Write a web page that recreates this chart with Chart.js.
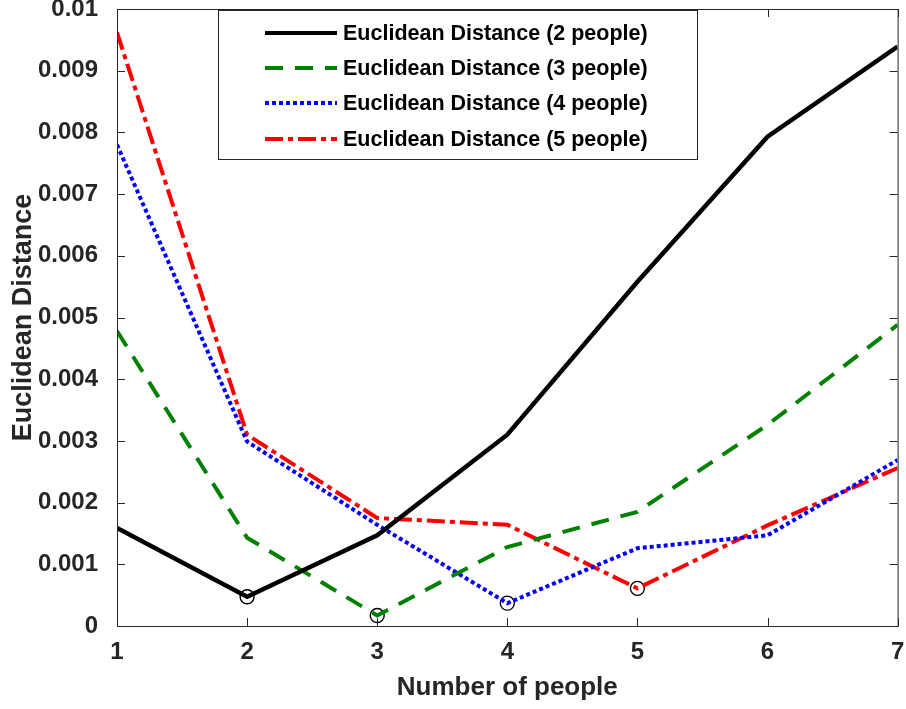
<!DOCTYPE html>
<html>
<head>
<meta charset="utf-8">
<script src="https://cdn.jsdelivr.net/npm/chart.js@4.4.1/dist/chart.umd.min.js"></script>
<style>
  html, body { margin: 0; padding: 0; background: #fff; }
  #wrap { width: 906px; height: 709px; }
</style>
</head>
<body>
<div id="wrap"><canvas id="chart" width="906" height="709"></canvas></div>
<script>
// data
const people = [1, 2, 3, 4, 5, 6, 7];
const dist2 = [0.00159, 0.000475, 0.00147, 0.00310, 0.00558, 0.00793, 0.00939];
const dist3 = [0.00478, 0.00143, 0.00017, 0.00128, 0.00185, 0.00326, 0.00488];
const dist4 = [0.00780, 0.00299, 0.00164, 0.00037, 0.00126, 0.00147, 0.00269];
const dist5 = [0.00962, 0.00310, 0.00175, 0.00164, 0.00061, 0.00163, 0.00256];
const seriesNames = [
  "Euclidean Distance (2 people)",
  "Euclidean Distance (3 people)",
  "Euclidean Distance (4 people)",
  "Euclidean Distance (5 people)",
];
const yTicks = [0, 0.001, 0.002, 0.003, 0.004, 0.005, 0.006, 0.007, 0.008, 0.009, 0.01];

const AXIS = "#262626";
const FONT = "'Liberation Sans', Arial, Helvetica, sans-serif";

const styles = [
  { color: "#000000", dash: [] },
  { color: "#008000", dash: [18, 12] },
  { color: "#0000ff", dash: [4, 3] },
  { color: "#ff0000", dash: [18, 5, 5, 5] },
];
const allSeries = [dist2, dist3, dist4, dist5];

function toPts(arr) {
  return arr.map((v, i) => ({ x: people[i], y: v }));
}

// circle on each series' minimum
const minima = allSeries.map((arr) => {
  let k = 0;
  arr.forEach((v, i) => { if (v < arr[k]) k = i; });
  return { x: people[k], y: arr[k] };
});

const datasets = allSeries.map((arr, i) => ({
  label: seriesNames[i],
  data: toPts(arr),
  borderColor: styles[i].color,
  borderDash: styles[i].dash,
  borderWidth: i === 0 ? 4.5 : 4,
  pointRadius: 0,
  tension: 0,
  fill: false,
}));
datasets.push({
  label: "min",
  type: "scatter",
  data: minima,
  pointStyle: "circle",
  pointRadius: 7,
  pointBorderWidth: 1.4,
  pointBorderColor: "#000",
  pointBackgroundColor: "rgba(0,0,0,0)",
  showLine: false,
});

// MATLAB style box with inward ticks + legend
const boxPlugin = {
  id: "box",
  afterDatasetsDraw(chart) {
    const { ctx, chartArea: a, scales } = chart;
    ctx.save();
    ctx.strokeStyle = AXIS;
    ctx.lineWidth = 1;
    ctx.strokeRect(a.left + 0.5, a.top + 0.5, a.right - a.left, a.bottom - a.top);
    ctx.beginPath();
    const tl = 8;
    people.forEach((v) => {
      const px = Math.round(scales.x.getPixelForValue(v)) + 0.5;
      ctx.moveTo(px, a.bottom); ctx.lineTo(px, a.bottom - tl);
      ctx.moveTo(px, a.top); ctx.lineTo(px, a.top + tl);
    });
    yTicks.forEach((v) => {
      const py = Math.round(scales.y.getPixelForValue(v)) + 0.5;
      ctx.moveTo(a.left, py); ctx.lineTo(a.left + tl, py);
      ctx.moveTo(a.right, py); ctx.lineTo(a.right - tl, py);
    });
    ctx.stroke();

    // legend box
    const lx = 218, ly = 10, lw = 479, lh = 149;
    ctx.fillStyle = "#fff";
    ctx.fillRect(lx, ly, lw, lh);
    ctx.strokeStyle = AXIS;
    ctx.strokeRect(lx + 0.5, ly + 0.5, lw, lh);
    const rows = [33, 68, 103, 139];
    ctx.font = "bold 21.5px " + FONT;
    ctx.textBaseline = "middle";
    ctx.textAlign = "left";
    seriesNames.forEach((name, i) => {
      ctx.beginPath();
      ctx.strokeStyle = styles[i].color;
      ctx.lineWidth = 4;
      ctx.setLineDash(styles[i].dash);
      ctx.moveTo(265, rows[i]);
      ctx.lineTo(337, rows[i]);
      ctx.stroke();
      ctx.setLineDash([]);
      ctx.fillStyle = "#000";
      ctx.fillText(name, 343, rows[i] + 1);
    });
    ctx.restore();
  },
};

new Chart(document.getElementById("chart"), {
  type: "line",
  data: { datasets },
  options: {
    responsive: false,
    animation: false,
    layout: { padding: { top: 9, right: 8, left: 0, bottom: 0 } },
    plugins: { legend: { display: false }, tooltip: { enabled: false } },
    scales: {
      x: {
        type: "linear",
        min: 1,
        max: 7,
        grid: { display: false },
        border: { display: false },
        afterBuildTicks(s) { s.ticks = people.map((v) => ({ value: v })); },
        afterFit(s) {
          s.height = 83;
          s.paddingLeft = 0;
          s.paddingRight = 0;
        },
        ticks: {
          color: AXIS,
          padding: 4,
          maxRotation: 0,
          font: { family: FONT, size: 24, weight: "bold" },
          callback: (v) => String(v),
        },
        title: {
          display: true,
          text: "Number of people",
          color: AXIS,
          padding: { top: 4, bottom: 6 },
          font: { family: FONT, size: 26, weight: "bold" },
        },
      },
      y: {
        type: "linear",
        min: 0,
        max: 0.01,
        grid: { display: false },
        border: { display: false },
        afterBuildTicks(s) { s.ticks = yTicks.map((v) => ({ value: v })); },
        afterFit(s) {
          s.width = 117;
          s.paddingTop = 0;
          s.paddingBottom = 0;
        },
        ticks: {
          color: AXIS,
          padding: 11,
          font: { family: FONT, size: 24, weight: "bold" },
          callback: (v) => String(Number(v.toFixed(3))),
        },
        title: {
          display: true,
          text: "Euclidean Distance",
          color: AXIS,
          padding: { top: 7, bottom: 0 },
          font: { family: FONT, size: 27, weight: "bold" },
        },
      },
    },
  },
  plugins: [boxPlugin],
});
</script>
</body>
</html>
